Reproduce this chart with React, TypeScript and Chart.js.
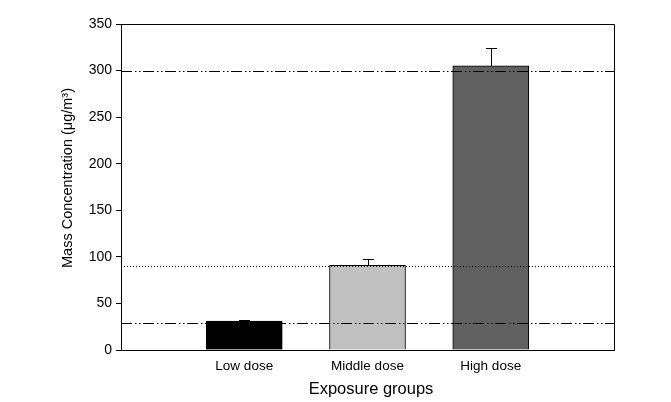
import React, { useEffect, useRef } from "react";
import { Chart, registerables } from "chart.js";

Chart.register(...registerables);

const CATEGORIES = ["", "Low dose", "Middle dose", "High dose", ""];
const MEANS = [null, 31, 91, 305, null];
const ERRORS = [0, 1.5, 6.5, 19, 0];
const BAR_COLORS = ["#000000", "#000000", "#c0c0c0", "#606060", "#000000"];
const Y_TICKS_MIN = 0;
const Y_TICKS_MAX = 350;
const Y_TICKS_STEP = 50;
const DASHDOT_LINES = [300, 29];
const DOTTED_LINES = [90];
const X_TITLE = "Exposure groups";
const Y_TITLE = "Mass Concentration (μg/m³)";

const FONT = "'Liberation Sans', Arial, sans-serif";

const overlayPlugin = {
  id: "overlay",
  afterDatasetsDraw(chart: any) {
    const ctx = chart.ctx;
    const ys = chart.scales.y;
    const area = chart.chartArea;
    const meta = chart.getDatasetMeta(0);
    ctx.save();
    // reference lines
    ctx.strokeStyle = "#000";
    ctx.lineWidth = 1;
    ctx.setLineDash([11, 3, 1.5, 2.5, 1.5, 2.5]);
    DASHDOT_LINES.forEach((v) => {
      const y = Math.round(ys.getPixelForValue(v)) + 0.5;
      ctx.beginPath();
      ctx.moveTo(area.left, y);
      ctx.lineTo(area.right, y);
      ctx.stroke();
    });
    ctx.setLineDash([1, 2]);
    DOTTED_LINES.forEach((v) => {
      const y = Math.round(ys.getPixelForValue(v)) + 0.5;
      ctx.beginPath();
      ctx.moveTo(area.left, y);
      ctx.lineTo(area.right, y);
      ctx.stroke();
    });
    ctx.setLineDash([]);
    // error bars (upper only)
    MEANS.forEach((m, i) => {
      if (m === null) return;
      const el = meta.data[i];
      if (!el) return;
      const x = Math.round(el.x) + 0.5;
      const y0 = ys.getPixelForValue(m);
      const y1 = Math.round(ys.getPixelForValue(m + ERRORS[i])) + 0.5;
      ctx.beginPath();
      ctx.moveTo(x, y0);
      ctx.lineTo(x, y1);
      ctx.moveTo(x - 5.5, y1);
      ctx.lineTo(x + 5.5, y1);
      ctx.stroke();
    });
    // frame top and right
    ctx.beginPath();
    ctx.moveTo(area.left, Math.round(area.top) + 0.5);
    ctx.lineTo(Math.round(area.right) + 0.5, Math.round(area.top) + 0.5);
    ctx.lineTo(Math.round(area.right) + 0.5, area.bottom);
    ctx.stroke();
    ctx.restore();
  },
  afterDraw(chart: any) {
    const ctx = chart.ctx;
    ctx.save();
    ctx.fillStyle = "#000";
    ctx.font = `16.5px ${FONT}`;
    ctx.textAlign = "center";
    ctx.textBaseline = "alphabetic";
    ctx.fillText(X_TITLE, 371, 394);
    ctx.translate(72, 178);
    ctx.rotate(-Math.PI / 2);
    ctx.font = `14.5px ${FONT}`;
    ctx.fillText(Y_TITLE, 0, 0);
    ctx.restore();
  },
};

export default function App() {
  const ref = useRef<HTMLCanvasElement>(null);
  useEffect(() => {
    if (!ref.current) return;
    const chart = new Chart(ref.current, {
      type: "bar",
      data: {
        labels: CATEGORIES,
        datasets: [
          {
            data: MEANS as any,
            backgroundColor: BAR_COLORS,
            borderColor: "#000",
            borderWidth: 1,
            barThickness: 76,
          },
        ],
      },
      options: {
        responsive: false,
        animation: false,
        devicePixelRatio: 1,
        layout: { padding: { left: 0, right: 57, top: 24, bottom: 0 } },
        plugins: {
          legend: { display: false },
          tooltip: { enabled: false },
        },
        scales: {
          x: {
            offset: false,
            grid: { display: false, drawTicks: false },
            border: { display: true, color: "#000", width: 1 },
            ticks: {
              color: "#000",
              font: { family: FONT, size: 13.5 },
              padding: 8,
              maxRotation: 0,
              autoSkip: false,
            },
            afterFit: (s: any) => {
              s.height = 52;
            },
          },
          y: {
            min: Y_TICKS_MIN,
            max: Y_TICKS_MAX,
            grid: {
              display: true,
              drawOnChartArea: false,
              drawTicks: true,
              tickLength: 5,
              color: "#000",
            },
            border: { display: true, color: "#000", width: 1 },
            ticks: {
              stepSize: Y_TICKS_STEP,
              color: "#000",
              font: { family: FONT, size: 14 },
              padding: 4,
            },
            afterFit: (s: any) => {
              s.width = 121;
            },
          },
        },
      },
      plugins: [overlayPlugin],
    });
    return () => chart.destroy();
  }, []);
  return (
    <div style={{ position: "absolute", left: 0, top: 0, width: 671, height: 402, background: "#fff" }}>
      <canvas ref={ref} width={671} height={402} style={{ display: "block" }} />
    </div>
  );
}
